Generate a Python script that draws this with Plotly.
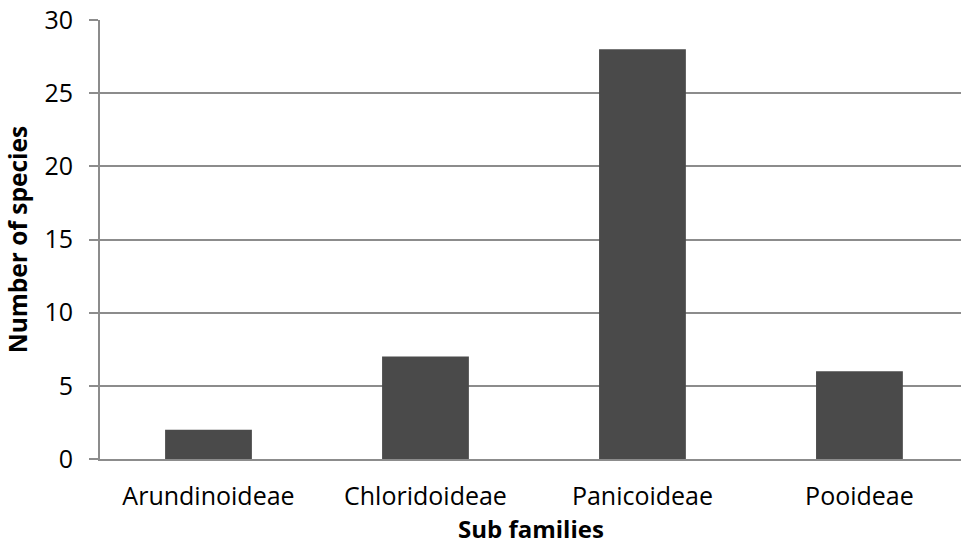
import plotly.graph_objects as go

subfamilies = ["Arundinoideae", "Chloridoideae", "Panicoideae", "Pooideae"]
species_counts = [2, 7, 28, 6]
y_ticks = [0, 5, 10, 15, 20, 25, 30]

GRID = "#8c8c8c"
BAR = "#4a4a4a"
FONT = "Open Sans, sans-serif"

fig = go.Figure(
    go.Bar(
        x=subfamilies,
        y=species_counts,
        width=0.4,
        marker=dict(color=BAR, line=dict(width=0)),
    )
)

fig.update_layout(
    width=961,
    height=548,
    margin=dict(l=100, r=0, t=20, b=89),
    paper_bgcolor="white",
    plot_bgcolor="white",
    showlegend=False,
    font=dict(family=FONT, color="black"),
    xaxis=dict(
        range=[-0.5, 3.468],
        showgrid=False,
        showline=True,
        linecolor=GRID,
        linewidth=2,
        ticks="",
        tickfont=dict(size=25),
        ticklabelstandoff=14,
        zeroline=False,
    ),
    yaxis=dict(
        range=[0, 30],
        tickvals=y_ticks,
        showgrid=True,
        gridcolor=GRID,
        gridwidth=2,
        showline=True,
        linecolor=GRID,
        linewidth=2,
        ticks="outside",
        ticklen=9,
        tickwidth=2,
        tickcolor=GRID,
        tickfont=dict(size=25),
        ticklabelstandoff=11,
        title=dict(text="<b>Number of species</b>", font=dict(size=24.5), standoff=10),
        zeroline=False,
    ),
    annotations=[
        dict(
            text="<b>Sub families</b>",
            xref="paper",
            yref="paper",
            x=0.5,
            y=-0.2,
            xanchor="center",
            yanchor="bottom",
            showarrow=False,
            font=dict(size=24, family=FONT, color="black"),
        )
    ],
)

fig.write_html("out.html")
